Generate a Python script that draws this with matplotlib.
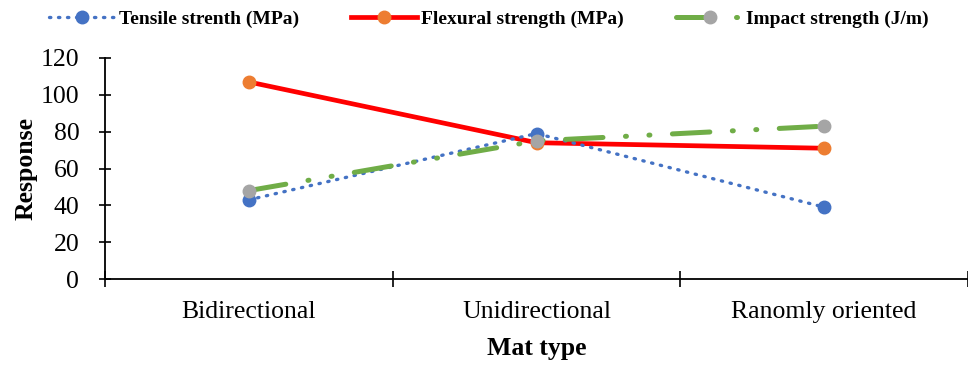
import matplotlib
matplotlib.use("Agg")
import matplotlib.pyplot as plt
from matplotlib.ticker import FixedLocator

categories = ["Bidirectional", "Unidirectional", "Ranomly oriented"]
tensile = [43, 79, 39]
flexural = [107, 74, 71]
impact = [48, 75, 83]
y_ticks = [0, 20, 40, 60, 80, 100, 120]

plt.rcParams['font.family'] = ['Liberation Serif', 'DejaVu Serif']

fig = plt.figure(figsize=(9.68, 3.65), dpi=100)
ax = fig.add_axes([105/968, 1-279/365, (968-105)/968, (279-58)/365])

x = list(range(len(categories)))
ax.plot(x, tensile, color='#4472C4', lw=2.4, ls=(0, (0.4, 2.3)), dash_capstyle='round',
        marker='o', ms=9, mfc='#4472C4', mec='#4472C4', label='Tensile strenth (MPa)', zorder=3)
ax.plot(x, flexural, color='#FF0000', lw=3.4, ls='-',
        marker='o', ms=9, mfc='#ED7D31', mec='#ED7D31', label='Flexural strength (MPa)', zorder=2)
ax.plot(x, impact, color='#70AD47', lw=3.6, ls=(0, (7.5, 4.5, 0.2, 4.5, 0.2, 4.5)), dash_capstyle='round',
        marker='o', ms=9, mfc='#A5A5A5', mec='#A5A5A5', label='Impact strength (J/m)', zorder=4)

ax.set_xlim(-0.5, 2.5)
ax.set_ylim(0, 120)
ax.set_yticks(y_ticks)
ax.set_xticks(x)
ax.set_xticklabels(categories, fontsize=18.5)
ax.tick_params(axis='x', length=0, pad=16)
ax.xaxis.set_minor_locator(FixedLocator([-0.5, 0.5, 1.5, 2.5]))
ax.tick_params(axis='x', which='minor', length=11, width=1.2, direction='inout')
ax.tick_params(axis='y', labelsize=18.5, length=9, width=1.2, direction='inout', pad=14)

for s in ['top', 'right']:
    ax.spines[s].set_visible(False)
ax.spines['left'].set_linewidth(1.3)
ax.spines['bottom'].set_linewidth(1.3)

ax.set_ylabel('Response', fontsize=18.5, fontweight='bold', labelpad=2)
ax.set_xlabel('Mat type', fontsize=18.5, fontweight='bold', labelpad=10)

leg = fig.legend(loc='upper center', bbox_to_anchor=(0.505, 1.02), ncol=3, frameon=False,
                 prop={'weight': 'bold', 'size': 14}, handlelength=3.4, columnspacing=2.7,
                 handletextpad=0.2)

fig.savefig('out.png', dpi=100)
